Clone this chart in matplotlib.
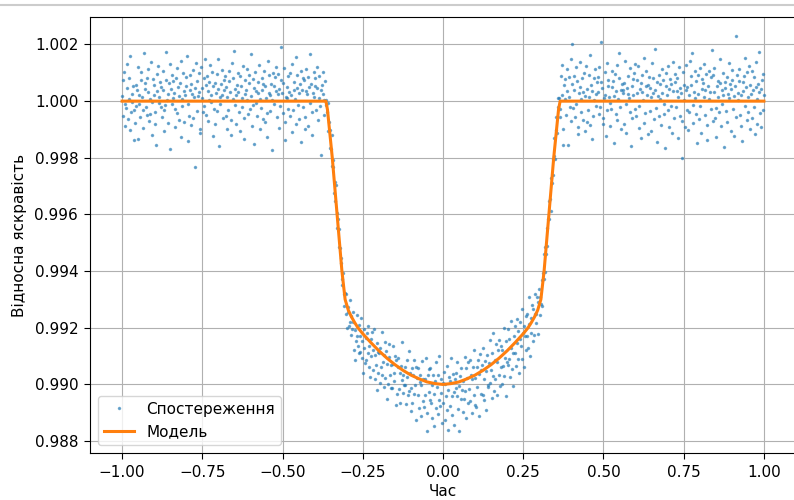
import numpy as np
import matplotlib.pyplot as plt
from matplotlib.ticker import FormatStrFormatter

# observed flux, (flux - 1) in units of 1e-5, 1000 samples evenly spaced in time from -1 to 1
obs_dev = [
    18, 73, -52, 104, -11, -88, -24, 131, 46, -63, 7, 82, 158, -101, -40, 26, -4, 53, -137, -30,
    -76, -17, 58, 39, -135, 122, 21, -9, -55, 74, 104, 13, -95, -30, 170, 63, 43, -20, 82, -48,
    115, 33, -69, -44, 9, 138, -119, -4, 78, 20, 56, -81, -37, -155, 97, 37, 125, -7, 16, 67,
    50, -21, -57, 108, 40, -104, -31, -13, 73, 175, 4, -78, 24, 63, 131, -168, 44, -11, 94, 11,
    70, 30, -27, -91, 81, 118, -43, 51, -65, 17, 64, 143, -125, -16, 6, 99, 36, -74, 23, 84,
    54, 160, -10, -141, -51, 41, 91, 60, -85, 26, 109, -58, 14, 47, -233, 135, -34, 71, 18, 98,
    31, -97, -112, 121, 48, 10, -38, 80, -18, 150, 57, -48, 87, 37, -71, 4, 68, 128, -3, 21,
    104, -122, 53, -26, -82, 65, 28, 95, -35, 44, 149, -159, 13, -9, 60, 111, 20, -61, 75, 38,
    88, -53, 50, 16, -98, -30, 105, 70, 31, -67, -118, 136, 7, 82, 178, -14, 43, -80, 23, 57,
    101, 34, -40, -105, 90, 55, -21, 11, 124, -58, -135, 24, 74, 41, 114, 3, -47, 65, 94, -28,
    18, 165, -87, -13, 78, -152, 48, 102, -6, 36, -54, 68, 27, 129, -99, 9, -23, 81, 40, -64,
    61, 108, -75, 53, 11, -43, -126, 141, 30, 92, 20, -34, 62, 3, -173, 101, -10, 54, 84, 37,
    119, -57, 26, 95, 44, -94, -17, 75, 190, 28, -41, 64, 116, -72, -138, 14, 51, 10, 87, -26,
    34, 99, -51, 21, 132, -109, -33, 40, 68, 7, 155, -82, 91, 47, -13, -62, 27, 60, 106, -145,
    38, 80, -20, 74, -55, -99, 37, 115, 24, 85, -88, 50, 168, -7, 62, -121, -40, 30, 104, 16,
    82, 55, -30, 48, 122, -67, 10, 89, -17, 41, -190, 58, 26, 102, -50, 4, 71, -15, 4, -38,
    -7, -104, -72, -165, -102, -170, -118, -230, -231, -208, -325, -286, -353, -295, -396, -448, -415, -516, -453, -520,
    -571, -553, -650, -627, -607, -722, -682, -677, -751, -679, -802, -744, -727, -793, -703, -778, -827, -757, -806, -745,
    -780, -880, -808, -915, -845, -755, -830, -865, -790, -890, -830, -885, -765, -905, -845, -960, -805, -870, -925, -835,
    -915, -820, -890, -795, -940, -865, -975, -840, -900, -815, -950, -880, -805, -980, -895, -930, -855, -1020, -885, -960,
    -890, -995, -870, -940, -815, -965, -920, -1010, -895, -850, -977, -882, -1052, -927, -997, -902, -857, -967, -1012, -932,
    -1014, -929, -864, -989, -959, -899, -1074, -914, -1034, -939, -906, -1016, -961, -1066, -936, -986, -851, -1031, -966, -1001,
    -938, -1003, -1068, -913, -973, -1038, -883, -1023, -958, -1093, -1012, -942, -1067, -967, -912, -1032, -1002, -1127, -937, -977,
    -1037, -942, -1082, -992, -967, -1112, -1002, -917, -1057, -982, -1081, -981, -1036, -906, -1101, -1166, -966, -1026, -946, -1056,
    -942, -1067, -1002, -1117, -967, -1032, -1147, -987, -922, -1082, -1010, -1105, -965, -1055, -900, -1075, -1030, -980, -1135, -995,
    -1065, -955, -1125, -1000, -1040, -935, -1090, -1020, -1160, -975, -987, -1077, -907, -1042, -1107, -962, -1027, -1142, -982, -1012,
    -961, -1041, -921, -1086, -1006, -1166, -971, -1051, -941, -1021, -1097, -987, -1052, -902, -1022, -942, -1117, -977, -1067, -922,
    -1017, -912, -1057, -967, -1102, -982, -937, -1037, -877, -1072, -978, -1078, -938, -1008, -913, -1113, -963, -893, -1033, -948,
    -931, -1036, -871, -981, -1056, -916, -951, -1091, -896, -1001, -1009, -924, -844, -994, -949, -1049, -889, -969, -819, -1024,
    -912, -982, -857, -1037, -922, -877, -967, -842, -1007, -937, -865, -1000, -880, -935, -800, -970, -905, -1040, -845, -920,
    -930, -805, -910, -840, -975, -870, -775, -945, -890, -1005, -830, -890, -795, -935, -855, -770, -910, -810, -960, -840,
    -780, -865, -735, -910, -820, -795, -940, -830, -760, -880, -830, -750, -870, -690, -785, -900, -765, -820, -720, -845,
    -735, -826, -752, -682, -783, -753, -693, -822, -709, -662, -754, -691, -717, -632, -722, -607, -627, -540, -603, -516,
    -540, -448, -511, -415, -353, -416, -345, -388, -271, -290, -203, -261, -130, -193, -205, -102, -55, -112, 11, -22,
    10, -55, -28, 90, 127, 21, -99, -155, 57, 7, 78, -50, 35, 113, -155, 14, 85, -21, 148, -71,
    59, 200, -25, 89, 38, -55, -10, 119, 72, -93, -115, 27, 139, 51, -40, 7, 81, 34, -65, 100,
    -106, 18, 124, 42, -74, -33, 93, 13, 162, -85, 58, 37, -133, -52, 82, 4, 112, 24, -16, 69,
    85, 31, -44, 120, -20, 66, 210, 47, -79, -61, 11, 102, 23, -124, 134, -31, 55, 76, 16, -7,
    -88, -27, 50, 107, 71, 17, -147, 96, 35, -47, -68, 126, 6, 81, 170, -21, -100, 41, 61, 28,
    40, 64, -81, 143, -11, -112, 48, 25, 89, 10, -37, 116, -160, -59, 55, 78, 20, 99, -28, 131,
    -51, 75, 27, 123, -96, -16, 44, 65, -129, 34, 93, 3, 153, -76, -41, 52, 105, 21, -117, 57,
    86, 45, -34, 13, -107, 133, 30, 81, -64, 185, 40, -24, 69, -143, 17, -54, 92, 61, 8, -84,
    28, 112, 74, -47, -10, -167, 54, 100, 20, -31, 124, 42, -90, 78, 61, -17, -113, 137, 35, -58,
    66, 96, -21, 37, 82, -131, 16, 119, -52, 47, 27, -71, -200, 102, 58, 4, -93, 127, 41, -30,
    50, -102, -40, 21, 140, 88, 57, 170, -13, -78, 33, 108, 11, -44, 72, -148, 91, 25, -62, 116,
    -18, -113, 79, 42, 64, 16, 130, -50, 38, 96, -85, -137, 55, 7, 105, 31, 84, -26, 181, -69,
    94, 34, 117, -58, -23, -126, 52, 72, 14, -38, 147, 64, -89, -11, 41, 99, 23, -163, 68, 45,
    -35, -74, 86, 25, 134, 10, 61, -105, 42, 109, 76, -27, 17, -122, 54, 230, -57, 93, 30, 4,
    71, 115, -48, 20, -86, -140, 67, 37, 89, 153, -17, 50, 102, -66, 13, -40, 125, -99, 58, 24,
    -61, 106, 40, 84, -21, -116, 51, 137, 6, -79, 62, 172, 31, -42, -91, 44, 75, -30, 96, 21,
]

# transit model, (flux - 1) in units of 1e-5
model_time = [-1.0, -0.365, -0.36, -0.345, -0.33, -0.315, -0.305, -0.295, -0.285, -0.275,
              -0.265, -0.25, -0.225, -0.2, -0.175, -0.15, -0.125, -0.1, -0.075, -0.05, -0.025,
              0.0, 0.025, 0.05, 0.075, 0.1, 0.125, 0.15, 0.175, 0.2, 0.225, 0.25, 0.265,
              0.275, 0.285, 0.295, 0.305, 0.315, 0.33, 0.345, 0.36, 0.365, 1.0]
model_dev = [0, 0, -30, -200, -400, -600, -700, -738, -762, -782,
             -800, -821, -852, -881, -907, -930, -950, -967, -980, -991, -997,
             -1000, -997, -991, -980, -967, -950, -930, -907, -881, -852, -821, -800,
             -782, -762, -738, -700, -600, -400, -200, -30, 0, 0]

obs_time = np.linspace(-1, 1, len(obs_dev))
obs_flux = 1 + np.array(obs_dev) * 1e-5
model_flux = 1 + np.array(model_dev) * 1e-5

plt.rcParams["font.size"] = 11
plt.rcParams["xtick.major.pad"] = 4.5
plt.rcParams["ytick.major.pad"] = 4.5
plt.rcParams["xtick.major.size"] = 4
plt.rcParams["ytick.major.size"] = 4

fig = plt.figure(figsize=(7.94, 5.0), dpi=100)
ax = fig.add_axes([90 / 794, 47 / 500, 706 / 794, 436 / 500])

ax.plot(obs_time, obs_flux, ".", color="#1f77b4", markersize=3, alpha=0.55,
        snap=False, label="Спостереження")
ax.plot(model_time, model_flux, "-", color="#ff7f0e", linewidth=2.2, label="Модель")

ax.set_xlim(-1.1, 1.1)
ax.set_ylim(0.98758, 1.00297)
ax.set_yticks([0.988, 0.990, 0.992, 0.994, 0.996, 0.998, 1.000, 1.002])
ax.yaxis.set_major_formatter(FormatStrFormatter("%.3f"))
ax.set_xlabel("Час", labelpad=3)
ax.set_ylabel("Відносна яскравість", labelpad=5)
ax.legend(loc="lower left")
ax.grid(True)

# thin grey border line at the top of the screenshot
fig.add_artist(plt.Line2D([0, 1], [0.99, 0.99], transform=fig.transFigure, color="#cccccc", linewidth=1.5))

fig.savefig("out.png", dpi=100)
